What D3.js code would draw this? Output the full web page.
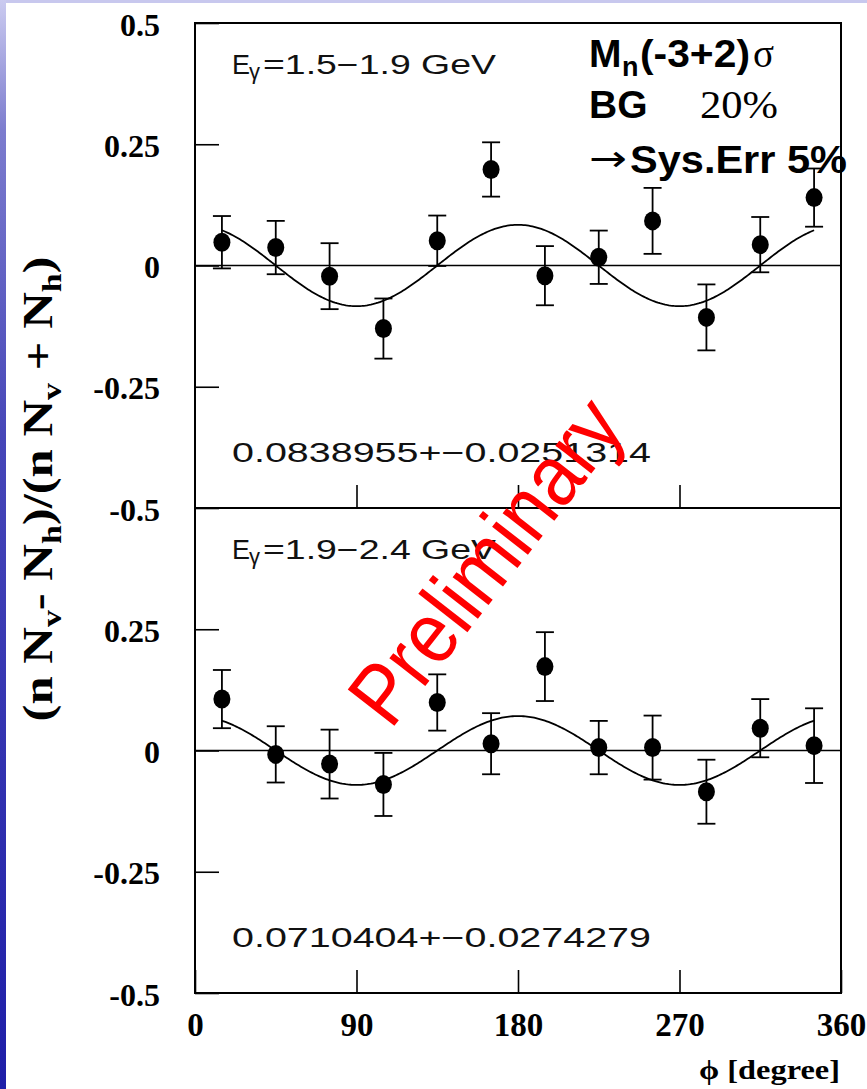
<!DOCTYPE html>
<html><head><meta charset="utf-8">
<script src="https://cdn.jsdelivr.net/npm/d3@7"></script>
<style>html,body{margin:0;padding:0;background:#fff;overflow:hidden}</style>
</head><body>
<svg id="chart" width="867" height="1089"></svg>
<script>
// ---- data ----
const phiBins = [15, 45, 75, 105, 135, 165, 195, 225, 255, 285, 315, 345];
const topValues = [0.048, 0.037, -0.022, -0.130, 0.051, 0.198, -0.021, 0.017, 0.092, -0.107, 0.043, 0.140];
const topErrors = [0.054, 0.055, 0.068, 0.062, 0.052, 0.056, 0.061, 0.055, 0.068, 0.068, 0.057, 0.060];
const bottomValues = [0.106, -0.008, -0.028, -0.070, 0.099, 0.014, 0.173, 0.006, 0.006, -0.085, 0.046, 0.010];
const bottomErrors = [0.060, 0.058, 0.071, 0.065, 0.058, 0.063, 0.071, 0.055, 0.066, 0.066, 0.060, 0.077];
const fitAmplitudes = [0.0838955, 0.0710404];
const fitRange = [15, 345];
const fitLabels = ["0.0838955+\u22120.0251314", "0.0710404+\u22120.0274279"];
const energyLabels = ["=1.5\u22121.9 GeV", "=1.9\u22122.4 GeV"];
const xTicks = [0, 90, 180, 270, 360];
const yTicksTop = [0.5, 0.25, 0, -0.25, -0.5];
const yTicksBottom = [0.25, 0, -0.25, -0.5];

const svg = d3.select("#chart");
const W = 867, H = 1089;
const L = 195, R = 841, T = 23, M = 508, B = 993;

// background decoration
const defs = svg.append("defs");
const grad = defs.append("linearGradient").attr("id", "strip").attr("x1", 0).attr("y1", 0).attr("x2", 0).attr("y2", 1);
[[0, "#cbcbf0"], [0.12, "#7c7cce"], [0.4, "#4646b8"], [1, "#1e1ea8"]].forEach(([o, c]) =>
  grad.append("stop").attr("offset", o).attr("stop-color", c));
svg.append("rect").attr("x", 0).attr("y", 0).attr("width", W).attr("height", H).attr("fill", "#fff");
svg.append("rect").attr("x", 0).attr("y", 0).attr("width", W).attr("height", 3).attr("fill", "#c8c8ee");
svg.append("rect").attr("x", 0).attr("y", 0).attr("width", 6).attr("height", H).attr("fill", "url(#strip)");

const x = d3.scaleLinear().domain([0, 360]).range([L, R]);
const yTop = d3.scaleLinear().domain([-0.5, 0.5]).range([M, T]);
const yBot = d3.scaleLinear().domain([-0.5, 0.5]).range([B, M]);

function styleAxis(g, size) {
  g.select(".domain").remove();
  g.selectAll(".tick line").attr("stroke", "#000").attr("stroke-width", 1.6);
  g.selectAll(".tick text").attr("fill", "#000")
    .attr("font-family", "'Liberation Serif','Times New Roman',serif")
    .attr("font-weight", "bold").attr("font-size", size);
}

function panel(yScale, values, errors, amp, yTickVals, energyLabel, fitLabel, top) {
  const g = svg.append("g");
  // y axis
  const ya = g.append("g").attr("transform", `translate(${L},0)`)
    .call(d3.axisLeft(yScale).tickValues(yTickVals).tickSizeInner(-24).tickSizeOuter(0)
      .tickPadding(35).tickFormat(d => String(d)));
  styleAxis(ya, 32);
  ya.selectAll(".tick text").attr("dy", "0.38em");
  // x ticks (up from panel bottom)
  const ybottom = yScale(-0.5);
  const xa = g.append("g").attr("transform", `translate(0,${ybottom})`)
    .call(d3.axisBottom(x).tickValues(top ? [90, 180, 270] : xTicks).tickSizeInner(-23).tickSizeOuter(0)
      .tickPadding(20).tickFormat(top ? () => "" : d => String(d)));
  styleAxis(xa, 33);
  if (!top) xa.selectAll(".tick text").attr("dy", null).attr("y", 43);
  // zero line
  g.append("line").attr("x1", L).attr("x2", R).attr("y1", yScale(0)).attr("y2", yScale(0))
    .attr("stroke", "#000").attr("stroke-width", 1.6);
  // fit curve
  const pts = d3.range(fitRange[0], fitRange[1] + 0.01, 1).map(p => [p, amp * Math.cos(2 * p * Math.PI / 180)]);
  g.append("path").attr("d", d3.line().x(d => x(d[0])).y(d => yScale(d[1]))(pts))
    .attr("fill", "none").attr("stroke", "#000").attr("stroke-width", 1.8);
  // error bars
  const eb = g.append("g").attr("stroke", "#000").attr("stroke-width", 1.8);
  phiBins.forEach((p, i) => {
    const cx = x(p), y1 = yScale(values[i] + errors[i]), y2 = yScale(values[i] - errors[i]);
    eb.append("line").attr("x1", cx).attr("x2", cx).attr("y1", y1).attr("y2", y2);
    eb.append("line").attr("x1", cx - 9).attr("x2", cx + 9).attr("y1", y1).attr("y2", y1);
    eb.append("line").attr("x1", cx - 9).attr("x2", cx + 9).attr("y1", y2).attr("y2", y2);
  });
  g.append("g").selectAll("ellipse").data(phiBins).join("ellipse")
    .attr("cx", d => x(d)).attr("cy", (d, i) => yScale(values[i])).attr("rx", 8.5).attr("ry", 9.5).attr("fill", "#000");
  // labels (ROOT style)
  const ptop = yScale(0.5);
  const rootFont = "'Liberation Sans','DejaVu Sans',sans-serif";
  g.append("text").attr("x", 232).attr("y", ptop + 51).attr("font-family", rootFont).attr("font-size", 27)
    .attr("fill", "#111").text("E");
  g.append("text").attr("x", 249).attr("y", ptop + 56).attr("font-family", rootFont).attr("font-size", 22)
    .attr("fill", "#111").text("\u03b3");
  g.append("text").attr("x", 263).attr("y", ptop + 51).attr("font-family", rootFont).attr("font-size", 27)
    .attr("fill", "#111").attr("textLength", 233).attr("lengthAdjust", "spacingAndGlyphs").text(energyLabel);
  g.append("text").attr("x", 232).attr("y", ptop + 439).attr("font-family", rootFont).attr("font-size", 27)
    .attr("fill", "#111").attr("textLength", 419).attr("lengthAdjust", "spacingAndGlyphs").text(fitLabel);
}

panel(yTop, topValues, topErrors, fitAmplitudes[0], yTicksTop, energyLabels[0], fitLabels[0], true);
panel(yBot, bottomValues, bottomErrors, fitAmplitudes[1], yTicksBottom, energyLabels[1], fitLabels[1], false);

// frame
svg.append("rect").attr("x", L).attr("y", T).attr("width", R - L).attr("height", B - T)
  .attr("fill", "none").attr("stroke", "#000").attr("stroke-width", 2);
svg.append("line").attr("x1", L).attr("x2", R).attr("y1", M).attr("y2", M).attr("stroke", "#000").attr("stroke-width", 2);

// axis titles
const serif = "'Liberation Serif','Times New Roman',serif";
const yt = svg.append("text").attr("transform", "translate(52,489) rotate(-90)")
  .attr("text-anchor", "middle").attr("font-family", serif).attr("font-weight", "bold").attr("font-size", 42)
  .attr("textLength", 465).attr("lengthAdjust", "spacingAndGlyphs").attr("fill", "#000");
const parts = [["(n N", 0], ["v", 1], ["- N", 0], ["h", 1], [")/(n N", 0], ["v", 1], [" + N", 0], ["h", 1], [")", 0]];
let prevSub = 0;
parts.forEach(([t, sub]) => {
  const ts = yt.append("tspan").text(t);
  if (sub) ts.attr("font-size", 28);
  const dy = (sub ? 9 : 0) - (prevSub ? 9 : 0);
  if (dy) ts.attr("dy", dy);
  prevSub = sub;
});
svg.append("text").attr("x", 840).attr("y", 1079).attr("text-anchor", "end")
  .attr("font-family", serif).attr("font-weight", "bold").attr("font-size", 28)
  .attr("textLength", 141).attr("lengthAdjust", "spacingAndGlyphs").text("\u03d5 [degree]");

// annotation top-right
const sans = "'Liberation Sans',Arial,sans-serif";
svg.append("text").attr("x", 589).attr("y", 67).attr("font-family", sans).attr("font-weight", "bold").attr("font-size", 39).text("M");
svg.append("text").attr("x", 622).attr("y", 76).attr("font-family", sans).attr("font-weight", "bold").attr("font-size", 27).text("n");
svg.append("text").attr("x", 640).attr("y", 67).attr("font-family", sans).attr("font-weight", "bold").attr("font-size", 39)
  .attr("textLength", 110).attr("lengthAdjust", "spacingAndGlyphs").text("(-3+2)");
svg.append("text").attr("x", 753).attr("y", 67).attr("font-family", serif).attr("font-size", 39).text("\u03c3");
svg.append("text").attr("x", 589).attr("y", 118).attr("font-family", sans).attr("font-weight", "bold").attr("font-size", 39).text("BG");
svg.append("text").attr("x", 700).attr("y", 118).attr("font-family", serif).attr("font-size", 39)
  .attr("textLength", 78).attr("lengthAdjust", "spacingAndGlyphs").text("20%");
svg.append("text").attr("x", 589).attr("y", 171).attr("font-family", "'DejaVu Sans',sans-serif").attr("font-size", 36)
  .attr("textLength", 38).attr("lengthAdjust", "spacingAndGlyphs").text("\u2192");
svg.append("text").attr("x", 630).attr("y", 173).attr("font-family", sans).attr("font-weight", "bold").attr("font-size", 39)
  .attr("textLength", 217).attr("lengthAdjust", "spacingAndGlyphs").text("Sys.Err 5%");

// watermark
svg.append("text").attr("transform", "translate(509,579) rotate(-52)").attr("text-anchor", "middle")
  .attr("font-family", sans).attr("font-size", 86).attr("fill", "#ff0000")
  .attr("textLength", 385).attr("lengthAdjust", "spacingAndGlyphs").text("Preliminary");
</script>
</body></html>
